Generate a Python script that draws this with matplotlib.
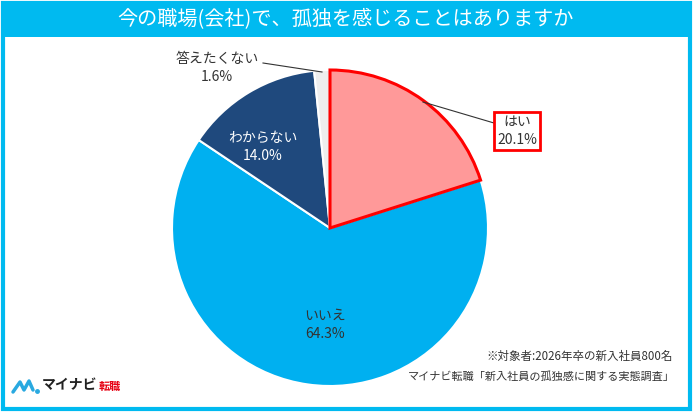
import matplotlib
matplotlib.use("Agg")
import matplotlib.pyplot as plt
from matplotlib.patches import Rectangle

plt.rcParams['font.family'] = ['Noto Sans CJK JP', 'DejaVu Sans']

categories = ["はい", "いいえ", "わからない", "答えたくない"]
values = [20.1, 64.3, 14.0, 1.6]
colors = ["#FF9999", "#00B0F0", "#1F497D", "#EEEEEE"]
title = "今の職場(会社)で、孤独を感じることはありますか"
note1 = "※対象者:2026年卒の新入社員800名"
note2 = "マイナビ転職「新入社員の孤独感に関する実態調査」"

W, H = 700, 416
fig = plt.figure(figsize=(W / 100, H / 100), dpi=100)


def pixel_axes():
    a = fig.add_axes([0, 0, 1, 1])
    a.set_xlim(0, W)
    a.set_ylim(H, 0)
    a.axis("off")
    a.patch.set_alpha(0)
    return a


# background layer
bg = pixel_axes()
frame_col = "#00BAF0"
bg.add_patch(Rectangle((3, 3), 687, 406, facecolor="white", edgecolor=frame_col, lw=3, zorder=0))
bg.add_patch(Rectangle((2, 2), 689, 35, facecolor=frame_col, edgecolor="none", zorder=1))
bg.text(345, 20, title, color="white", fontsize=14.5, ha="center", va="center", zorder=2)

# pie axes
cx, cy, r = 330, 228, 158
pax = fig.add_axes([(cx - r) / W, (H - cy - r) / H, 2 * r / W, 2 * r / H])
wedges, _ = pax.pie(values, colors=colors, startangle=90, counterclock=False,
                    wedgeprops=dict(edgecolor="white", linewidth=1.5))
pax.set_xlim(-1, 1)
pax.set_ylim(-1, 1)
pax.set_aspect("equal")
wedges[0].set_edgecolor("#FF0000")
wedges[0].set_linewidth(2.2)
wedges[0].set_zorder(3)

# top overlay for labels
ov = pixel_axes()

fs = 10
txt = "#333333"
# はい label with box
ov.text(517, 131, f"{categories[0]}\n{values[0]:.1f}%", fontsize=fs, ha="center", va="center",
        color=txt, linespacing=1.3,
        bbox=dict(boxstyle="square,pad=0.25", facecolor="white", edgecolor="#FF0000", lw=2), zorder=5)
ov.plot([423, 494], [102, 123], color=txt, lw=0.8, zorder=4)

# いいえ
ov.text(325, 325, f"{categories[1]}\n{values[1]:.1f}%", fontsize=fs, ha="center", va="center",
        color=txt, linespacing=1.3, zorder=5)
# わからない
ov.text(263, 147, f"{categories[2]}\n{values[2]:.1f}%", fontsize=fs, ha="center", va="center",
        color="white", linespacing=1.3, zorder=5)
# 答えたくない
ov.text(217, 68, f"{categories[3]}\n{values[3]:.1f}%", fontsize=fs, ha="center", va="center",
        color=txt, linespacing=1.3, zorder=5)
ov.plot([263, 322], [63, 72], color=txt, lw=0.8, zorder=4)

# notes
ov.text(673, 356, note1, fontsize=8.3, ha="right", va="center", color=txt)
ov.text(675, 377, note2, fontsize=8, ha="right", va="center", color=txt)

# logo
ov.plot([13, 20, 24, 29, 33], [392, 382, 390, 381, 390], color="#29A9E0", lw=2.5,
        solid_capstyle="round", solid_joinstyle="round")
ov.plot([36.5], [390.5], marker="o", ms=2.5, color="#29A9E0")
ov.text(42, 385, "マイナビ", fontsize=10, fontweight="bold", ha="left", va="center", color="#222222")
ov.text(99, 386, "転職", fontsize=8, fontweight="bold", ha="left", va="center", color="#E60012")

fig.savefig("out.png", dpi=100)
